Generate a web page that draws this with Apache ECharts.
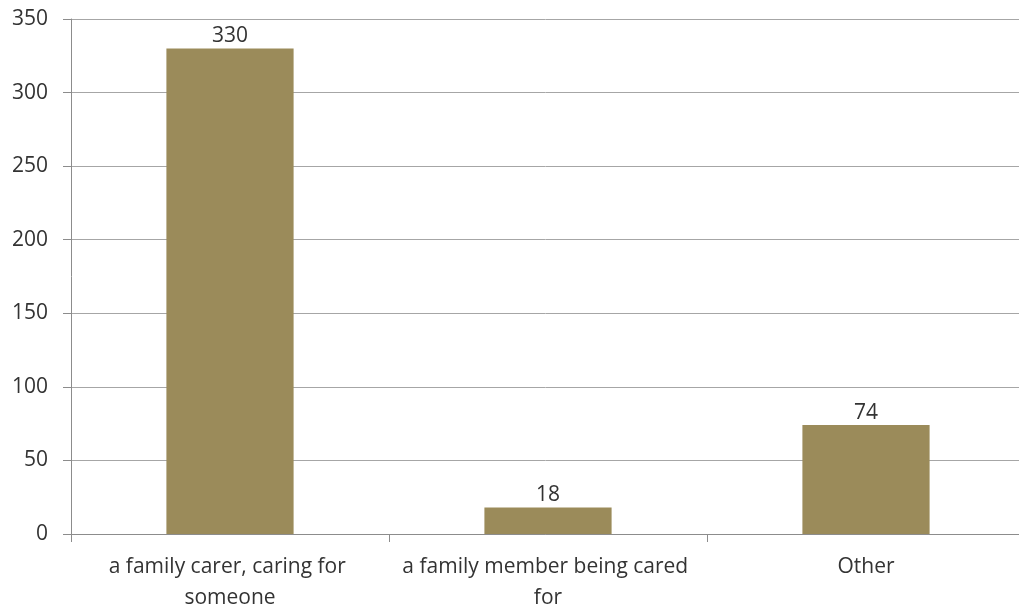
<!DOCTYPE html>
<html>
<head>
<meta charset="utf-8">
<script src="https://cdn.jsdelivr.net/npm/echarts@6/dist/echarts.min.js"></script>
<style>html,body{margin:0;padding:0;background:#fff}#c{width:1019px;height:609px}</style>
</head>
<body>
<div id="c"></div>
<script>
const categories = ["a family carer, caring for someone", "a family member being cared for", "Other"];
const values = [330, 18, 74];
const yMin = 0, yMax = 350, yStep = 50;

const chart = echarts.init(document.getElementById('c'));
const FONT = 'Open Sans';
chart.setOption({
  animation: false,
  grid: { left: 71, width: 954, top: 19, height: 515, containLabel: false, outerBoundsMode: 'none' },
  xAxis: {
    type: 'category',
    data: categories,
    axisLine: { lineStyle: { color: '#8c8c8c', width: 1 } },
    axisTick: { show: true, length: 8, lineStyle: { color: '#8c8c8c' } },
    axisLabel: { color: '#333', fontFamily: FONT, fontSize: 21, margin: 18, lineHeight: 31,
      width: 300, overflow: 'break', interval: 0 }
  },
  yAxis: {
    type: 'value', min: yMin, max: yMax, interval: yStep,
    axisLine: { show: true, lineStyle: { color: '#8c8c8c', width: 1 } },
    axisTick: { show: true, length: 8, lineStyle: { color: '#8c8c8c' } },
    splitLine: { lineStyle: { color: '#a6a6a6', width: 1 } },
    axisLabel: { color: '#333', fontFamily: FONT, fontSize: 21, margin: 23 }
  },
  series: [{
    type: 'bar',
    data: values,
    barWidth: '40%',
    itemStyle: { color: '#9b8b5a' },
    label: { show: true, position: 'top', distance: 2, color: '#333', fontFamily: FONT, fontSize: 21 }
  }]
});
</script>
</body>
</html>
